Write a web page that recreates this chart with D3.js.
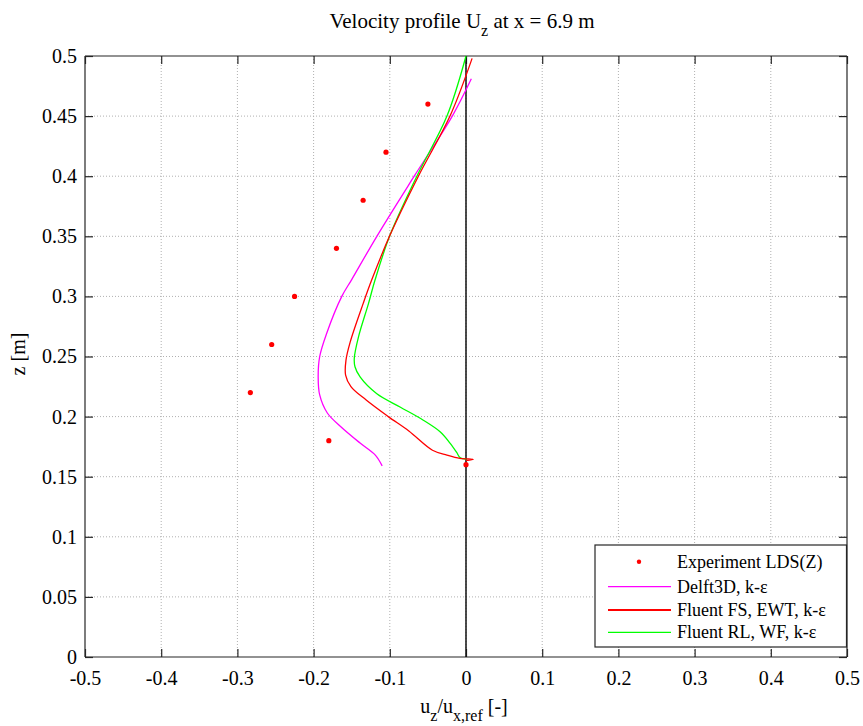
<!DOCTYPE html>
<html>
<head>
<meta charset="utf-8">
<script src="https://cdn.jsdelivr.net/npm/d3@7"></script>
<style>
  body { margin: 0; background: #fff; }
  svg { display: block; }
  svg text { font-family: "Liberation Serif", "Times New Roman", Times, "Nimbus Roman", "DejaVu Serif", serif !important; fill: #000; }
</style>
</head>
<body>
<svg id="chart" width="863" height="726"></svg>
<script>
// ---- data ----
const xTicks = [-0.5, -0.4, -0.3, -0.2, -0.1, 0, 0.1, 0.2, 0.3, 0.4, 0.5];
const yTicks = [0, 0.05, 0.1, 0.15, 0.2, 0.25, 0.3, 0.35, 0.4, 0.45, 0.5];

const expX = [-0.05, -0.105, -0.135, -0.17, -0.225, -0.255, -0.283, -0.18, 0.0];
const expZ = [0.46, 0.42, 0.38, 0.34, 0.30, 0.26, 0.22, 0.18, 0.16];

const delftX = [0.007, -0.018, -0.068, -0.117, -0.150, -0.163, -0.183, -0.192, -0.194, -0.192, -0.182, -0.165, -0.139, -0.119, -0.110];
const delftZ = [0.481, 0.45, 0.40, 0.35, 0.314, 0.30, 0.269, 0.25, 0.233, 0.218, 0.203, 0.192, 0.178, 0.168, 0.159];

const fsX = [0.008, -0.021, -0.0625, -0.0997, -0.1238, -0.135, -0.152, -0.1575, -0.158, -0.151, -0.131, -0.102, -0.075, -0.044, -0.025, -0.008, 0.0096, 0.0];
const fsZ = [0.498, 0.45, 0.40, 0.351, 0.3136, 0.294, 0.262, 0.247, 0.2346, 0.225, 0.2138, 0.200, 0.188, 0.172, 0.168, 0.1653, 0.1645, 0.1633];

const rlX = [0.0, -0.025, -0.0645, -0.0997, -0.1194, -0.128, -0.141, -0.1466, -0.1457, -0.139, -0.117, -0.0866, -0.056, -0.034, -0.021, -0.012, -0.008, 0.001];
const rlZ = [0.5, 0.45, 0.40, 0.351, 0.3136, 0.294, 0.2665, 0.2485, 0.2415, 0.233, 0.219, 0.208, 0.197, 0.1874, 0.178, 0.170, 0.166, 0.1645];

const seriesNames = ["Experiment LDS(Z)", "Delft3D, k-\u03b5", "Fluent FS, EWT, k-\u03b5", "Fluent RL, WF, k-\u03b5"];
const seriesColors = ["#ff0000", "#ff00ff", "#ff0000", "#00ff00"];

// ---- layout ----
const FONT = '"Liberation Serif", "Times New Roman", Times, "Nimbus Roman", "DejaVu Serif", serif';
const svg = d3.select("#chart").attr("font-family", FONT);
const L = 85, T = 56, W = 762, H = 601;
const x = d3.scaleLinear().domain([-0.5, 0.5]).range([L, L + W]);
const y = d3.scaleLinear().domain([0, 0.5]).range([T + H, T]);

const fmt = d => (Math.abs(d) < 1e-9 ? "0" : String(+d.toFixed(2)));

// grid
const g = svg.append("g");
g.selectAll(".gx").data(xTicks.slice(1, -1)).join("line")
  .attr("x1", d => x(d)).attr("x2", d => x(d)).attr("y1", T).attr("y2", T + H)
  .attr("stroke", "#b0b0b0").attr("stroke-width", 1).attr("stroke-dasharray", "1,2");
g.selectAll(".gy").data(yTicks.slice(1, -1)).join("line")
  .attr("y1", d => y(d)).attr("y2", d => y(d)).attr("x1", L).attr("x2", L + W)
  .attr("stroke", "#b0b0b0").attr("stroke-width", 1).attr("stroke-dasharray", "1,2");

// axes (inward ticks, box)
const bottom = d3.axisBottom(x).tickValues(xTicks).tickSize(-8).tickPadding(14).tickFormat(fmt);
const topA = d3.axisTop(x).tickValues(xTicks).tickSize(-8).tickFormat("");
const left = d3.axisLeft(y).tickValues(yTicks).tickSize(-8).tickPadding(8).tickFormat(fmt);
const rightA = d3.axisRight(y).tickValues(yTicks).tickSize(-8).tickFormat("");

function style(sel) {
  sel.attr("font-family", FONT).attr("font-size", 20);
  sel.select(".domain").attr("stroke", "#262626").attr("stroke-width", 1.2);
  sel.selectAll(".tick line").attr("stroke", "#262626").attr("stroke-width", 1.2);
  sel.selectAll(".tick text").attr("font-family", FONT).attr("font-size", 20).attr("fill", "#000");
}
svg.append("g").attr("transform", `translate(0,${T + H})`).call(bottom).call(style)
  .call(s => s.select(".domain").attr("d", `M${L},0H${L + W}`));
svg.append("g").attr("transform", `translate(0,${T})`).call(topA).call(style)
  .call(s => s.select(".domain").attr("d", `M${L},0H${L + W}`));
svg.append("g").attr("transform", `translate(${L},0)`).call(left).call(style)
  .call(s => s.select(".domain").attr("d", `M0,${T}V${T + H}`));
svg.append("g").attr("transform", `translate(${L + W},0)`).call(rightA).call(style)
  .call(s => s.select(".domain").attr("d", `M0,${T}V${T + H}`));

// vertical zero line
svg.append("line")
  .attr("x1", x(0)).attr("x2", x(0)).attr("y1", y(0)).attr("y2", y(0.5))
  .attr("stroke", "#111").attr("stroke-width", 1.5);

// lines
const line = d3.line().x(d => x(d[0])).y(d => y(d[1])).curve(d3.curveCatmullRom.alpha(0.5));
const lineSets = [
  [d3.zip(delftX, delftZ), seriesColors[1]],
  [d3.zip(rlX, rlZ), seriesColors[3]],
  [d3.zip(fsX, fsZ), seriesColors[2]]
];
lineSets.forEach(([data, color]) => {
  svg.append("path").datum(data).attr("d", line)
    .attr("fill", "none").attr("stroke", color).attr("stroke-width", 1.3);
});

// experiment points
svg.selectAll(".pt").data(d3.zip(expX, expZ)).join("circle")
  .attr("cx", d => x(d[0])).attr("cy", d => y(d[1])).attr("r", 2.6)
  .attr("fill", seriesColors[0]);

// title
const title = svg.append("text").attr("x", 462).attr("y", 28)
  .attr("text-anchor", "middle").attr("font-size", 21);
title.append("tspan").text("Velocity profile U");
title.append("tspan").attr("dy", 8).attr("font-size", 16).text("z");
title.append("tspan").attr("dy", -8).text(" at x = 6.9 m");

// x label
const xl = svg.append("text").attr("x", 464).attr("y", 713)
  .attr("text-anchor", "middle").attr("font-size", 20);
xl.append("tspan").text("u");
xl.append("tspan").attr("dy", 8).attr("font-size", 16).text("z");
xl.append("tspan").attr("dy", -8).text("/u");
xl.append("tspan").attr("dy", 8).attr("font-size", 16).text("x,ref");
xl.append("tspan").attr("dy", -8).text(" [-]");

// y label
svg.append("text").attr("transform", "translate(25,354) rotate(-90)")
  .attr("text-anchor", "middle").attr("font-size", 20).text("z [m]");

// legend
const lg = svg.append("g");
lg.append("rect").attr("x", 595).attr("y", 545).attr("width", 251.5).attr("height", 102)
  .attr("fill", "#fff").attr("stroke", "#262626").attr("stroke-width", 1.2);
const rowY = [561.7, 586.7, 610, 632.3];
seriesNames.forEach((name, i) => {
  if (i === 0) {
    lg.append("circle").attr("cx", 639).attr("cy", rowY[i]).attr("r", 2.2).attr("fill", seriesColors[i]);
  } else {
    lg.append("line").attr("x1", 608).attr("x2", 671).attr("y1", rowY[i]).attr("y2", rowY[i])
      .attr("stroke", seriesColors[i]).attr("stroke-width", i === 2 ? 2 : 1.2);
  }
  lg.append("text").attr("x", 677).attr("y", rowY[i] + 6).attr("font-size", 18).text(name);
});
</script>
</body>
</html>
